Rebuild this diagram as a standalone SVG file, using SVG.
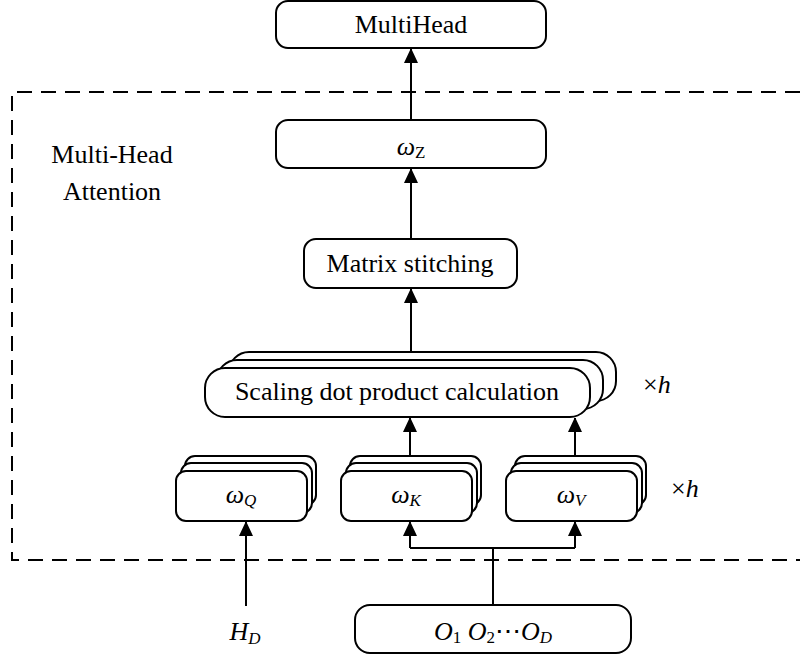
<svg xmlns="http://www.w3.org/2000/svg" width="800" height="660" viewBox="0 0 800 660">
<style>
.box{fill:#fff;stroke:#000;stroke-width:2}
.t{font-family:"Liberation Serif","Times New Roman",serif;font-size:26px;fill:#000}
.i{font-style:italic}
.sub{font-size:17px}
.ln{fill:none;stroke:#000;stroke-width:2}
.dash{fill:none;stroke:#000;stroke-width:2;stroke-dasharray:15 9}
</style>
<defs>
<marker id="arr" markerUnits="userSpaceOnUse" markerWidth="14" markerHeight="16" viewBox="0 0 14 16" refX="14" refY="7" orient="auto">
<path d="M0,0 L15,7 L0,14 Z" fill="#000"/>
</marker>
</defs>
<rect width="800" height="660" fill="#fff"/>

<g id="frame">
<path class="dash" d="M800,92 H12 V560 H800"/>
<text class="t" x="112" y="163" text-anchor="middle">Multi-Head</text>
<text class="t" x="112" y="200" text-anchor="middle">Attention</text>
</g>

<g id="connectors">
<line class="ln" x1="411" y1="120" x2="411" y2="49" marker-end="url(#arr)"/>
<line class="ln" x1="411" y1="239" x2="411" y2="169" marker-end="url(#arr)"/>
<line class="ln" x1="411" y1="352" x2="411" y2="289" marker-end="url(#arr)"/>
<line class="ln" x1="410" y1="456" x2="410" y2="418" marker-end="url(#arr)"/>
<line class="ln" x1="575" y1="456" x2="575" y2="418" marker-end="url(#arr)"/>
<line class="ln" x1="246" y1="606" x2="246" y2="522" marker-end="url(#arr)"/>
<line class="ln" x1="493" y1="605" x2="493" y2="548"/>
<polyline class="ln" points="410,548 575,548"/>
<line class="ln" x1="410" y1="548" x2="410" y2="522" marker-end="url(#arr)"/>
<line class="ln" x1="575" y1="548" x2="575" y2="522" marker-end="url(#arr)"/>
</g>

<g id="multihead">
<rect class="box" x="276" y="1" width="270" height="47" rx="12"/>
<text class="t" x="411" y="33" text-anchor="middle">MultiHead</text>
</g>

<g id="wz">
<rect class="box" x="276" y="120" width="270" height="48" rx="12"/>
<text class="t" x="411" y="155" text-anchor="middle"><tspan class="i">ω</tspan><tspan class="sub" dy="3">Z</tspan></text>
</g>

<g id="matrix">
<rect class="box" x="304" y="239" width="213" height="49" rx="12"/>
<text class="t" x="410" y="272" text-anchor="middle">Matrix stitching</text>
</g>

<g id="scaling">
<rect class="box" x="229" y="352" width="387" height="49" rx="20"/>
<rect class="box" x="217" y="360" width="386" height="49" rx="20"/>
<rect class="box" x="205" y="368" width="385" height="49" rx="20"/>
<text class="t" x="397" y="400" text-anchor="middle">Scaling dot product calculation</text>
<text class="t" x="643" y="393"><tspan>×</tspan><tspan class="i">h</tspan></text>
</g>

<g id="wq">
<rect class="box" x="185" y="456" width="131" height="49" rx="10"/>
<rect class="box" x="181" y="463" width="131" height="50" rx="10"/>
<rect class="box" x="176" y="471" width="131" height="50" rx="10"/>
<text class="t" x="241" y="503" text-anchor="middle"><tspan class="i">ω</tspan><tspan class="i sub" dy="3">Q</tspan></text>
</g>

<g id="wk">
<rect class="box" x="350" y="456" width="131" height="49" rx="10"/>
<rect class="box" x="346" y="463" width="131" height="50" rx="10"/>
<rect class="box" x="341" y="471" width="131" height="50" rx="10"/>
<text class="t" x="406" y="503" text-anchor="middle"><tspan class="i">ω</tspan><tspan class="i sub" dy="3">K</tspan></text>
</g>

<g id="wv">
<rect class="box" x="515" y="456" width="131" height="49" rx="10"/>
<rect class="box" x="511" y="463" width="131" height="50" rx="10"/>
<rect class="box" x="506" y="471" width="131" height="50" rx="10"/>
<text class="t" x="571" y="503" text-anchor="middle"><tspan class="i">ω</tspan><tspan class="i sub" dy="3">V</tspan></text>
<text class="t" x="671" y="497"><tspan>×</tspan><tspan class="i">h</tspan></text>
</g>

<g id="hd">
<text class="t" x="245" y="640" text-anchor="middle"><tspan class="i">H</tspan><tspan class="i sub" dy="4">D</tspan></text>
</g>

<g id="o">
<rect class="box" x="355" y="605" width="276" height="48" rx="15"/>
<text class="t" x="493" y="640" text-anchor="middle"><tspan class="i">O</tspan><tspan class="sub" dy="3">1</tspan><tspan dy="-3"> </tspan><tspan class="i">O</tspan><tspan class="sub" dy="3">2</tspan><tspan dy="-3">⋯</tspan><tspan class="i">O</tspan><tspan class="i sub" dy="3">D</tspan></text>
</g>
</svg>
